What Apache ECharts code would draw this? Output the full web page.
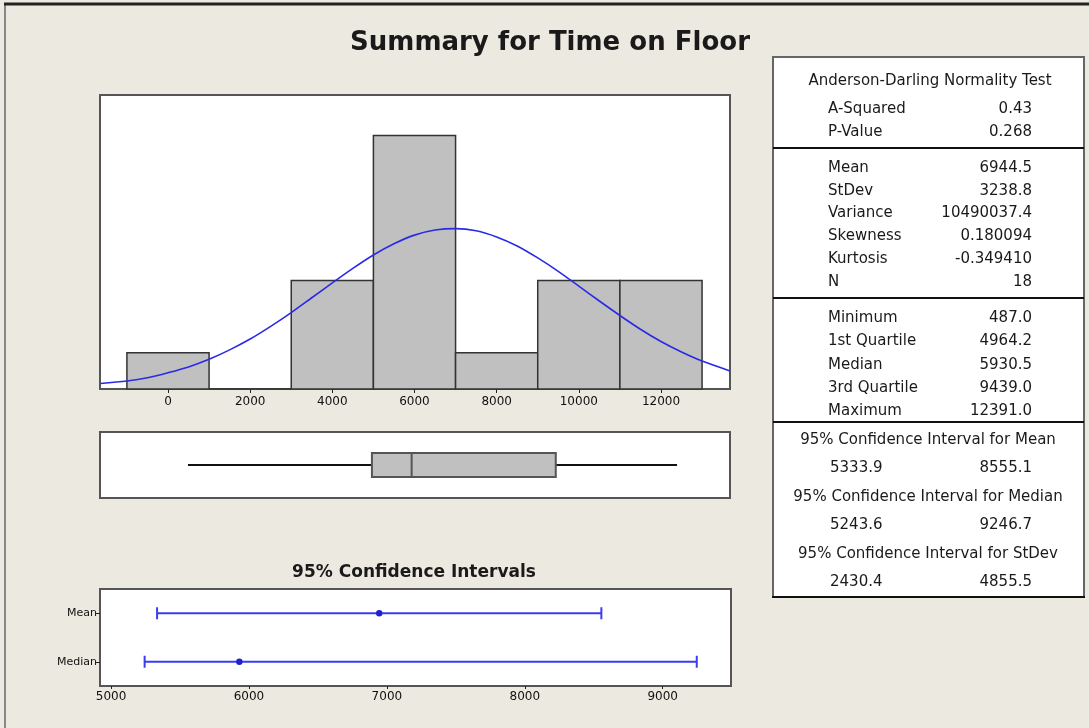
<!DOCTYPE html>
<html>
<head>
<meta charset="utf-8">
<title>Summary for Time on Floor</title>
<script src="https://cdn.jsdelivr.net/npm/echarts@6/dist/echarts.min.js"></script>
<style>
html,body{margin:0;padding:0;background:#ECE9E0;}
#main{width:1089px;height:728px;}
</style>
</head>
<body>
<div id="main"></div>
<script>
// histogram: bin left edges and counts
var binStart = [-1000, 1000, 3000, 5000, 7000, 9000, 11000];
var binCount = [1, 0, 3, 7, 1, 3, 3];
var binWidth = 2000;
var histTicks = [0, 2000, 4000, 6000, 8000, 10000, 12000];

// fitted normal curve
var curveX = [-1650, -1000, -500, 0, 500, 1000, 1500, 2000, 2500, 3000, 3500, 4000, 4500, 5000, 5500, 6000, 6500, 7000,
  7500, 8000, 8500, 9000, 9500, 10000, 10500, 11000, 11500, 12000, 12500, 13000, 13680];
var curveY = [0.15, 0.22, 0.31, 0.45, 0.61, 0.82, 1.08, 1.38, 1.73, 2.11, 2.52, 2.93, 3.33, 3.70, 4.01, 4.25, 4.39, 4.43,
  4.37, 4.20, 3.95, 3.62, 3.25, 2.84, 2.43, 2.03, 1.65, 1.31, 1.02, 0.77, 0.50];

// boxplot: min, Q1, median, Q3, max
var boxStats = [487.0, 4964.2, 5930.5, 9439.0, 12391.0];

// 95% confidence intervals
var ciNames = ['Median', 'Mean'];
var ciLow = [5243.6, 5333.9];
var ciEst = [5930.5, 6944.5];
var ciHigh = [9246.7, 8555.1];
var ciTicks = [5000, 6000, 7000, 8000, 9000];

// stats table
var adTitle = 'Anderson-Darling Normality Test';
var adRows = [['A-Squared', '0.43'], ['P-Value', '0.268']];
var momentRows = [['Mean', '6944.5'], ['StDev', '3238.8'], ['Variance', '10490037.4'],
  ['Skewness', '0.180094'], ['Kurtosis', '-0.349410'], ['N', '18']];
var quantRows = [['Minimum', '487.0'], ['1st Quartile', '4964.2'], ['Median', '5930.5'],
  ['3rd Quartile', '9439.0'], ['Maximum', '12391.0']];
var ciRows = [['95% Confidence Interval for Mean', '5333.9', '8555.1'],
  ['95% Confidence Interval for Median', '5243.6', '9246.7'],
  ['95% Confidence Interval for StDev', '2430.4', '4855.5']];

var FONT = '"DejaVu Sans", Tahoma, Verdana, sans-serif';
var chart = echarts.init(document.getElementById('main'));

var g = [];
function txt(s, x, y, align, size, bold) {
  g.push({
    type: 'text', z: 10,
    style: {
      text: s, x: x, y: y, textAlign: align, textVerticalAlign: 'middle',
      fill: '#1a1a1a', font: (bold ? 'bold ' : '') + size + 'px ' + FONT
    }
  });
}
function hline(x1, x2, y, w, c) {
  g.push({ type: 'line', z: 11, shape: { x1: x1, y1: y, x2: x2, y2: y }, style: { stroke: c, lineWidth: w } });
}

// outer frame
hline(4, 1089, 4, 3, '#222');
g.push({ type: 'line', shape: { x1: 5, y1: 4, x2: 5, y2: 728 }, style: { stroke: '#888', lineWidth: 2 } });

// titles
txt('Summary for Time on Floor', 550, 43, 'center', 26, true);
txt('95% Confidence Intervals', 414, 573, 'center', 17, true);

// table box
g.push({ type: 'rect', z: 9, shape: { x: 773, y: 57, width: 311, height: 540 },
  style: { fill: '#fff', stroke: '#666', lineWidth: 2 } });
hline(773, 1084, 148, 2, '#111');
hline(773, 1084, 298, 2, '#111');
hline(773, 1084, 422, 2, '#111');
hline(772, 1085, 597, 2, '#111');

var labX = 828, valX = 1032, fs = 15;
txt(adTitle, 930, 81, 'center', fs);
adRows.forEach(function (r, i) {
  txt(r[0], labX, 109 + i * 23, 'left', fs);
  txt(r[1], valX, 109 + i * 23, 'right', fs);
});
momentRows.forEach(function (r, i) {
  txt(r[0], labX, 168 + i * 22.8, 'left', fs);
  txt(r[1], valX, 168 + i * 22.8, 'right', fs);
});
quantRows.forEach(function (r, i) {
  txt(r[0], labX, 318 + i * 23.4, 'left', fs);
  txt(r[1], valX, 318 + i * 23.4, 'right', fs);
});
ciRows.forEach(function (r, i) {
  txt(r[0], 928, 440 + i * 57, 'center', fs);
  txt(r[1], 830, 468 + i * 57, 'left', fs);
  txt(r[2], valX, 468 + i * 57, 'right', fs);
});

var histData = binStart.map(function (s, i) { return [s, binCount[i]]; });
var curveData = curveX.map(function (x, i) { return [x, curveY[i]]; });

var gridStyle = { show: true, backgroundColor: '#fff', borderColor: '#555', borderWidth: 2, containLabel: false };
var axLabel = { color: '#111', fontSize: 12, fontFamily: FONT, formatter: function (v) { return String(v); } };

chart.setOption({
  animation: false,
  backgroundColor: '#ECE9E0',
  graphic: g,
  grid: [
    Object.assign({ left: 100, top: 95, width: 630, height: 294 }, gridStyle),
    Object.assign({ left: 100, top: 432, width: 630, height: 66 }, gridStyle),
    Object.assign({ left: 100, top: 589, width: 631, height: 97 }, gridStyle)
  ],
  xAxis: [
    {
      gridIndex: 0, type: 'value', min: -1655, max: 13680,
      axisLine: { show: false }, splitLine: { show: false },
      axisTick: { show: true, customValues: histTicks, length: 4, lineStyle: { color: '#222' } },
      axisLabel: Object.assign({ customValues: histTicks, margin: 7 }, axLabel)
    },
    { gridIndex: 1, type: 'value', min: -1655, max: 13680, show: false },
    {
      gridIndex: 2, type: 'value', min: 4920, max: 9495,
      axisLine: { show: false }, splitLine: { show: false },
      axisTick: { show: true, customValues: ciTicks, length: 3, lineStyle: { color: '#222' } },
      axisLabel: Object.assign({ customValues: ciTicks, margin: 5 }, axLabel)
    }
  ],
  yAxis: [
    { gridIndex: 0, type: 'value', min: 0, max: 8.12, show: false },
    { gridIndex: 1, type: 'value', min: 0, max: 1, show: false },
    {
      gridIndex: 2, type: 'category', data: ciNames,
      axisLine: { show: false }, splitLine: { show: false },
      axisTick: { show: true, alignWithLabel: true, length: 4, lineStyle: { color: '#222' } },
      axisLabel: { color: '#111', fontSize: 11, fontFamily: FONT, margin: 3 }
    }
  ],
  series: [
    {
      type: 'custom', xAxisIndex: 0, yAxisIndex: 0, data: histData,
      renderItem: function (params, api) {
        var s = api.value(0), c = api.value(1);
        var p0 = api.coord([s, 0]);
        var p1 = api.coord([s + binWidth, c]);
        return {
          type: 'rect',
          shape: { x: p0[0], y: p1[1], width: p1[0] - p0[0], height: p0[1] - p1[1] },
          style: { fill: '#C0C0C0', stroke: '#333', lineWidth: 1.5 }
        };
      }
    },
    {
      type: 'line', xAxisIndex: 0, yAxisIndex: 0, data: curveData,
      smooth: 0.3, showSymbol: false, z: 5,
      lineStyle: { color: '#2a2ae6', width: 1.6 }
    },
    {
      type: 'custom', xAxisIndex: 1, yAxisIndex: 1, data: [boxStats],
      renderItem: function (params, api) {
        var lo = api.coord([api.value(0), 0.5]);
        var q1 = api.coord([api.value(1), 0.5]);
        var md = api.coord([api.value(2), 0.5]);
        var q3 = api.coord([api.value(3), 0.5]);
        var hi = api.coord([api.value(4), 0.5]);
        var y = lo[1], h = 12;
        return {
          type: 'group',
          children: [
            { type: 'line', shape: { x1: lo[0], y1: y, x2: q1[0], y2: y }, style: { stroke: '#111', lineWidth: 2 } },
            { type: 'line', shape: { x1: q3[0], y1: y, x2: hi[0], y2: y }, style: { stroke: '#111', lineWidth: 2 } },
            { type: 'rect', shape: { x: q1[0], y: y - h, width: q3[0] - q1[0], height: 2 * h },
              style: { fill: '#C0C0C0', stroke: '#555', lineWidth: 2 } },
            { type: 'line', shape: { x1: md[0], y1: y - h, x2: md[0], y2: y + h }, style: { stroke: '#555', lineWidth: 2 } }
          ]
        };
      }
    },
    {
      type: 'custom', xAxisIndex: 2, yAxisIndex: 2,
      data: ciNames.map(function (n, i) { return [i, ciLow[i], ciEst[i], ciHigh[i]]; }),
      renderItem: function (params, api) {
        var i = api.value(0);
        var a = api.coord([api.value(1), i]);
        var m = api.coord([api.value(2), i]);
        var b = api.coord([api.value(3), i]);
        var y = a[1], c = 6, col = '#3b3bf0';
        return {
          type: 'group',
          children: [
            { type: 'line', shape: { x1: a[0], y1: y, x2: b[0], y2: y }, style: { stroke: col, lineWidth: 2 } },
            { type: 'line', shape: { x1: a[0], y1: y - c, x2: a[0], y2: y + c }, style: { stroke: col, lineWidth: 2 } },
            { type: 'line', shape: { x1: b[0], y1: y - c, x2: b[0], y2: y + c }, style: { stroke: col, lineWidth: 2 } },
            { type: 'circle', shape: { cx: m[0], cy: y, r: 3.2 }, style: { fill: '#2020d0' } }
          ]
        };
      }
    }
  ]
});

window.addEventListener('resize', function () { chart.resize(); });
</script>
</body>
</html>
